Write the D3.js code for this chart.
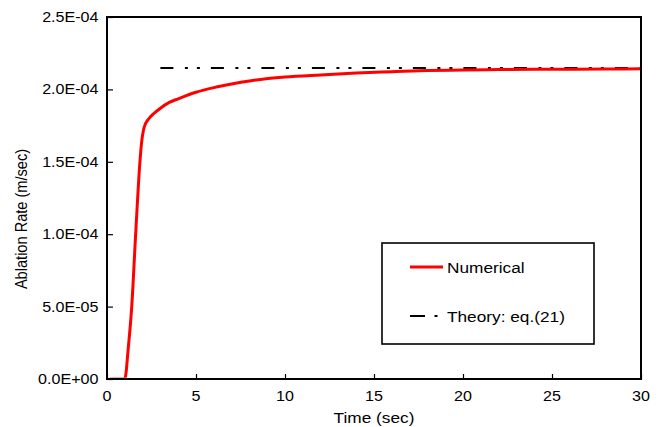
<!DOCTYPE html>
<html><head><meta charset="utf-8">
<script src="https://cdn.jsdelivr.net/npm/d3@7"></script>
<style>body{margin:0;background:#fff}text{font-family:"Liberation Sans",Arial,sans-serif;fill:#000}</style>
</head><body><svg id="c" width="660" height="427"></svg>
<script>
const timeSec = [0, 1.0, 1.2, 1.39, 1.61, 1.85, 1.95, 2.05, 2.15, 2.3, 2.6, 3.0, 3.5, 4.0, 5.0, 6.0, 7.0, 8.0, 10, 12, 14, 16, 18, 20, 22, 25, 28, 30];
const numerical = [0, 0, 0.22e-4, 0.5e-4, 1.0e-4, 1.5e-4, 1.64e-4, 1.72e-4, 1.76e-4, 1.79e-4, 1.83e-4, 1.87e-4, 1.91e-4, 1.935e-4, 1.98e-4, 2.012e-4, 2.037e-4, 2.058e-4, 2.085e-4, 2.10e-4, 2.113e-4, 2.122e-4, 2.13e-4, 2.134e-4, 2.137e-4, 2.139e-4, 2.141e-4, 2.142e-4];
const theoryTime = [3.0, 30];
const theoryValue = [2.148e-4, 2.148e-4];
const xTicks = [0, 5, 10, 15, 20, 25, 30];
const yTicks = [0, 5e-5, 1e-4, 1.5e-4, 2e-4, 2.5e-4];
const yTickLabels = ["0.0E+00", "5.0E-05", "1.0E-04", "1.5E-04", "2.0E-04", "2.5E-04"];
const legendLabels = ["Numerical", "Theory: eq.(21)"];

const svg = d3.select("#c");
const L = 107, R = 641, T = 17, B = 379;
const x = d3.scaleLinear().domain([0, 30]).range([L, R]);
const y = d3.scaleLinear().domain([0, 2.5e-4]).range([B, T]);
const SX = 1.15;

svg.append("defs").append("clipPath").attr("id", "clip")
  .append("rect").attr("x", L + 3).attr("y", T).attr("width", R - L).attr("height", B - T - 1.2);

// axes ticks (inside)
const yAxis = d3.axisLeft(y).tickValues(yTicks).tickSize(-6).tickFormat((d, i) => yTickLabels[i]);
const gy = svg.append("g").attr("transform", `translate(${L},0)`).call(yAxis);
gy.select(".domain").remove();
gy.selectAll("line").attr("stroke", "#000").attr("stroke-width", 1.2);
gy.selectAll("text").remove();
yTicks.forEach((v, i) => {
  svg.append("text").attr("transform", `translate(98.5,${y(v)}) scale(${SX},1)`)
    .attr("text-anchor", "end").attr("dy", "0.36em").attr("font-size", 14).text(yTickLabels[i]);
});

const xAxis = d3.axisBottom(x).tickValues(xTicks).tickSize(-5).tickFormat(d3.format("d"));
const gx = svg.append("g").attr("transform", `translate(0,${B})`).call(xAxis);
gx.select(".domain").remove();
gx.selectAll("line").attr("stroke", "#000").attr("stroke-width", 1.2);
gx.selectAll("text").remove();
xTicks.forEach(v => {
  svg.append("text").attr("transform", `translate(${x(v)},400.5) scale(${SX},1)`)
    .attr("text-anchor", "middle").attr("font-size", 14).text(d3.format("d")(v));
});

// theory line
const line = d3.line().x(d => x(d[0])).y(d => y(d[1]));
svg.append("path").datum(theoryTime.map((t, i) => [t, theoryValue[i]]))
  .attr("d", line).attr("fill", "none").attr("stroke", "#000").attr("stroke-width", 2)
  .attr("stroke-dasharray", "13,11.5,3,9,3,11");

// numerical line
svg.append("path").datum(timeSec.map((t, i) => [t, numerical[i]]))
  .attr("clip-path", "url(#clip)")
  .attr("d", d3.line().curve(d3.curveMonotoneX).x(d => x(d[0])).y(d => y(d[1])))
  .attr("fill", "none").attr("stroke", "#ff0000").attr("stroke-width", 3)
  .attr("stroke-linejoin", "round");

// frame
svg.append("rect").attr("x", L).attr("y", T).attr("width", R - L).attr("height", B - T)
  .attr("fill", "none").attr("stroke", "#000").attr("stroke-width", 2);

// axis titles
svg.append("text").attr("transform", `translate(${(L + R) / 2},423) scale(${SX},1)`)
  .attr("text-anchor", "middle").attr("font-size", 15).text("Time (sec)");
svg.append("text").attr("transform", `translate(27,219) rotate(-90) scale(1,${SX})`)
  .attr("text-anchor", "middle").attr("font-size", 14.6).text("Ablation Rate (m/sec)");

// legend
const lg = svg.append("g");
lg.append("rect").attr("x", 382).attr("y", 243).attr("width", 212).attr("height", 101)
  .attr("fill", "#fff").attr("stroke", "#000").attr("stroke-width", 1.6);
lg.append("line").attr("x1", 410).attr("x2", 443).attr("y1", 267).attr("y2", 267)
  .attr("stroke", "#ff0000").attr("stroke-width", 3);
lg.append("line").attr("x1", 410).attr("x2", 425).attr("y1", 316).attr("y2", 316)
  .attr("stroke", "#000").attr("stroke-width", 2);
lg.append("line").attr("x1", 434.5).attr("x2", 437.5).attr("y1", 316).attr("y2", 316)
  .attr("stroke", "#000").attr("stroke-width", 2);
lg.append("text").attr("transform", `translate(447,273) scale(${SX},1)`).attr("font-size", 15).text(legendLabels[0]);
lg.append("text").attr("transform", `translate(447,322) scale(${SX},1)`).attr("font-size", 15).text(legendLabels[1]);
</script></body></html>
